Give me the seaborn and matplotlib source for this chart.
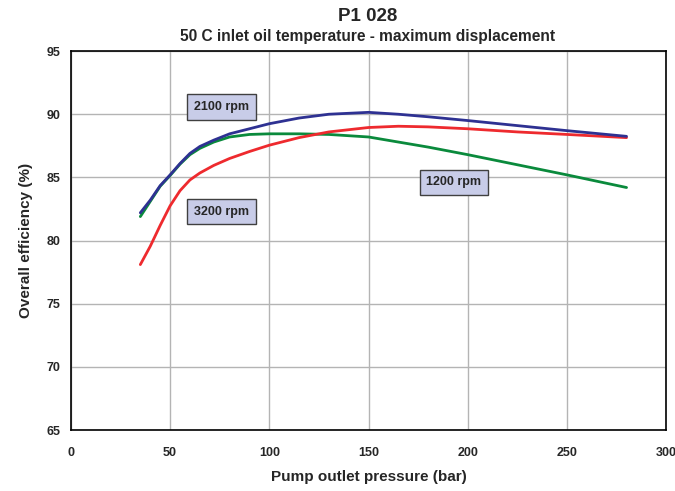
import matplotlib
matplotlib.use("Agg")
import matplotlib.pyplot as plt
import seaborn as sns
import pandas as pd

pressure = [35, 40, 45, 50, 55, 60, 65, 72, 80, 90, 100, 115, 130, 150, 165, 180, 200, 225, 250, 280]
eff_2100 = [82.2, 83.2, 84.35, 85.2, 86.1, 86.9, 87.45, 87.95, 88.45, 88.85, 89.25, 89.7, 90.0, 90.15, 90.0, 89.8, 89.5, 89.1, 88.7, 88.25]
eff_1200 = [81.9, 83.1, 84.3, 85.15, 86.05, 86.8, 87.3, 87.8, 88.2, 88.4, 88.45, 88.45, 88.4, 88.2, 87.8, 87.4, 86.8, 86.0, 85.2, 84.2]
eff_3200 = [78.1, 79.55, 81.2, 82.75, 83.95, 84.8, 85.35, 85.95, 86.5, 87.05, 87.55, 88.15, 88.6, 88.95, 89.05, 89.0, 88.85, 88.6, 88.4, 88.15]
series = ["1200 rpm", "3200 rpm", "2100 rpm"]
colors = {"1200 rpm": "#0a8a3c", "3200 rpm": "#ee2a2e", "2100 rpm": "#2e3192"}
label_pos = {"2100 rpm": (76, 90.6), "3200 rpm": (76, 82.3), "1200 rpm": (193, 84.6)}
x_ticks = [0, 50, 100, 150, 200, 250, 300]
y_ticks = [65, 70, 75, 80, 85, 90, 95]

df = pd.concat([
    pd.DataFrame({"pressure": pressure, "eff": eff_1200, "speed": "1200 rpm"}),
    pd.DataFrame({"pressure": pressure, "eff": eff_3200, "speed": "3200 rpm"}),
    pd.DataFrame({"pressure": pressure, "eff": eff_2100, "speed": "2100 rpm"}),
])

sns.set_style("white")
plt.rcParams["font.family"] = ["Liberation Sans", "DejaVu Sans"]

fig = plt.figure(figsize=(6.75, 4.91), dpi=100)
ax = fig.add_axes([0.105, 0.124, 0.882, 0.772])
sns.lineplot(data=df, x="pressure", y="eff", hue="speed", hue_order=series,
             palette=colors, linewidth=2.0, legend=False, ax=ax)
for ln in ax.lines:
    ln.set_solid_joinstyle("round")
    ln.set_solid_capstyle("round")

ax.set_xlim(0, 300)
ax.set_ylim(65, 95)
ax.set_xticks(x_ticks)
ax.set_yticks(y_ticks)
ax.grid(True, color="#b4b4b4", linewidth=1.0)
ax.set_axisbelow(True)
for s in ax.spines.values():
    s.set_color("black")
    s.set_linewidth(1.2)
ax.tick_params(axis="both", which="both", length=4, color="black", labelsize=9, direction="out")
ax.tick_params(axis="x", pad=8)
for lab in ax.get_xticklabels() + ax.get_yticklabels():
    lab.set_fontweight("bold")

ax.set_xlabel("Pump outlet pressure (bar)", fontsize=11, fontweight="bold", labelpad=8)
ax.set_ylabel("Overall efficiency (%)", fontsize=11, fontweight="bold", labelpad=10)
fig.text(0.545, 0.966, "P1 028", ha="center", va="center", fontsize=13.5, fontweight="bold")
fig.text(0.545, 0.926, "50 C inlet oil temperature - maximum displacement", ha="center", va="center",
         fontsize=11.2, fontweight="bold")

for name, (lx, ly) in label_pos.items():
    ax.text(lx, ly, name, ha="center", va="center", fontsize=9, fontweight="bold",
            bbox=dict(boxstyle="square,pad=0.55", facecolor="#c8cce8", edgecolor="#404040", linewidth=1.0))

fig.savefig("out.png", dpi=100)
